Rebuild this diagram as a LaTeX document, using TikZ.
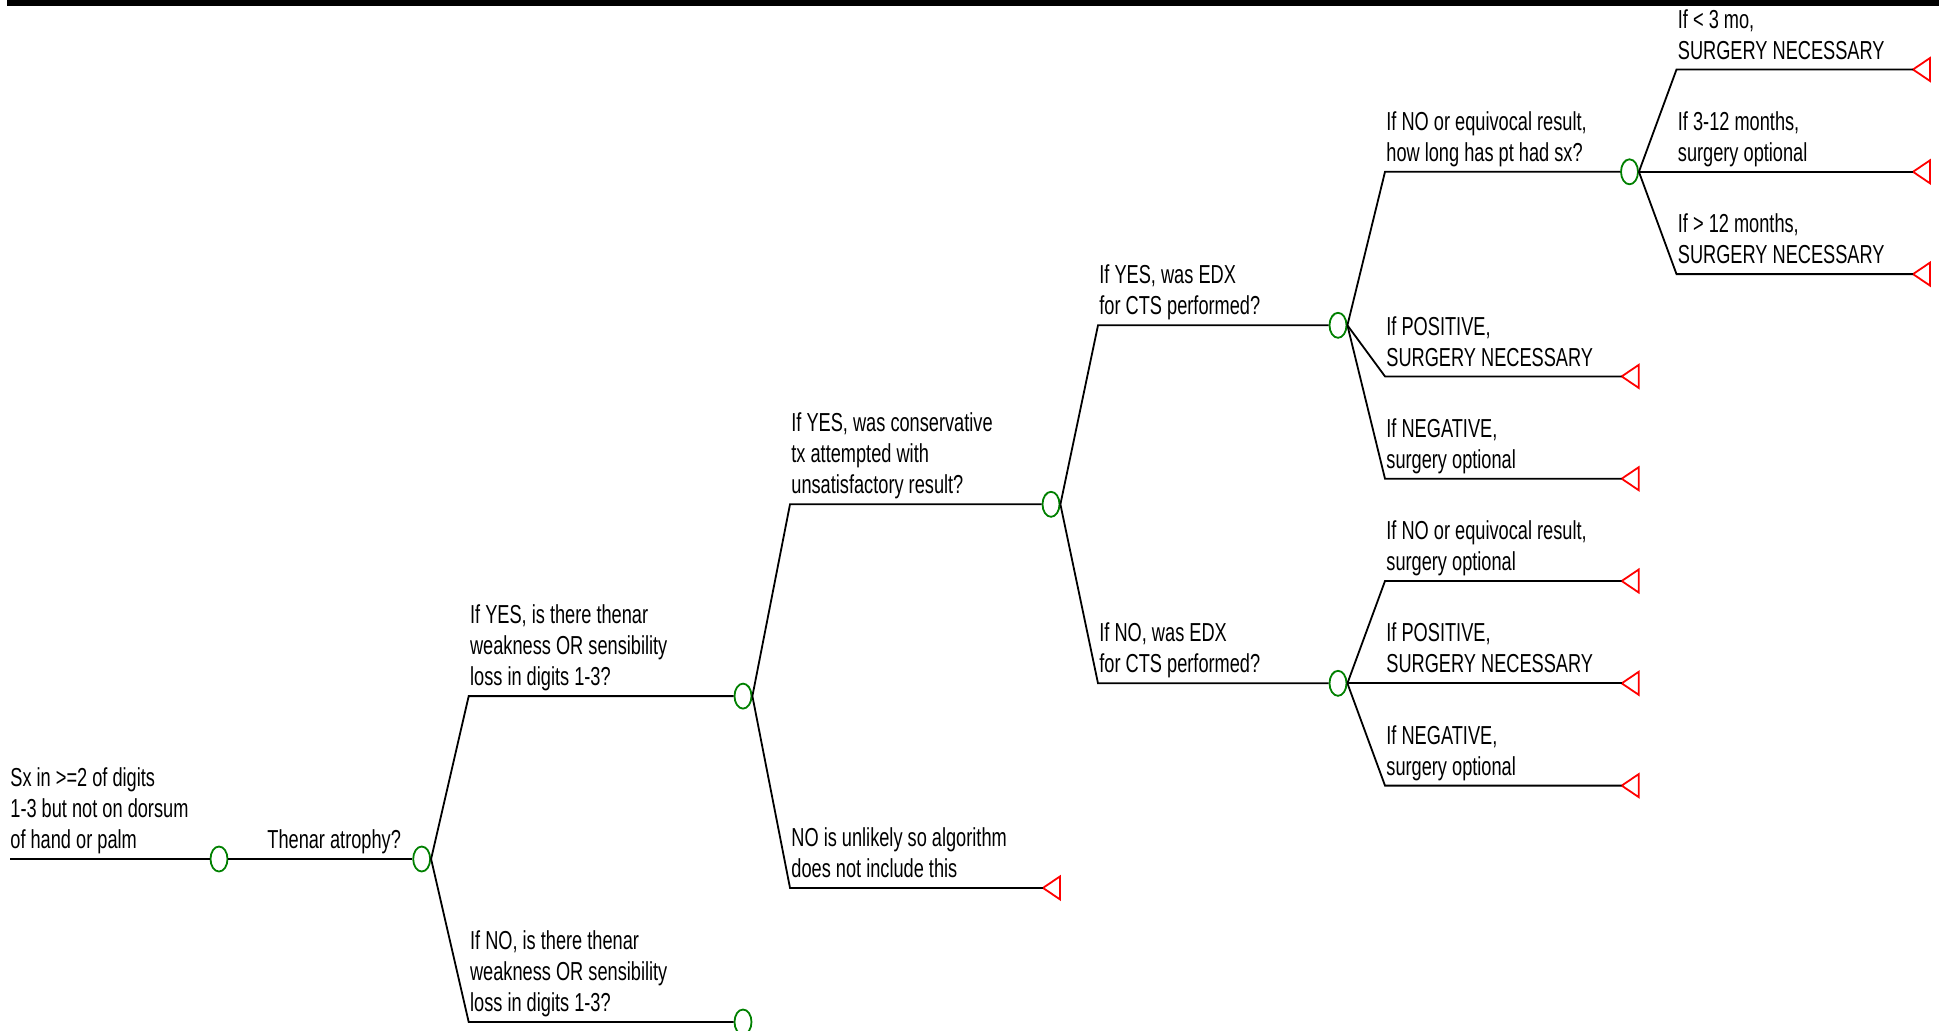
\documentclass[tikz,border=0pt]{standalone}
\usepackage{fontspec}
\setmainfont{Liberation Sans}[FakeStretch=0.7]
\usetikzlibrary{shapes.geometric}

\definecolor{chancegreen}{RGB}{0,128,0}
\definecolor{termred}{RGB}{255,0,0}

\tikzset{
  chance/.style={ellipse, draw=chancegreen, line width=0.9pt, minimum width=8.5pt, minimum height=12.5pt, inner sep=0pt},
  branch/.style={line width=0.9pt},
  lbl/.style={anchor=south west, align=left, inner sep=0pt, text depth=0pt, font=\fontsize{13}{15.5}\selectfont},
  endmark/.pic={\draw[draw=termred, line width=0.9pt] (0,0) -- (17,-11.5) -- (17,11.5) -- cycle;}
}

% parent, end point, label name, label text
\newcommand{\branchto}[4]{%
  \path (#1.center) ++(47,0) coordinate (knee);
  \draw[branch] (#1.east) -- (knee |- #2) -- (#2);
  \path (knee |- #2) ++(1,-10) node[lbl] (#3) {#4};
}

\begin{document}
\begin{tikzpicture}[x=0.5pt, y=-0.5pt]
		\useasboundingbox (0,0) rectangle (1939,1030);
		\fill (7,0) rectangle (1939,6);
		% chance nodes
		\coordinate (root) at (10,859);
		\node[chance] (sx) at (219,859) {};
		\node[chance] (thenar) at (421.7,859) {};
		\node[chance] (thyes) at (743,696.1) {};
		\node[chance] (thno) at (743,1022) {};
		\node[chance] (cons) at (1051,504.3) {};
		\node[chance] (edxyes) at (1338,325.3) {};
		\node[chance] (edxno) at (1338,683.3) {};
		\node[chance] (dur) at (1629.5,171.8) {};
		% terminals
		\coordinate (nolikely) at (1043,887.9);
		\coordinate (yespos) at (1621.7,376.4);
		\coordinate (yesneg) at (1621.7,478.7);
		\coordinate (noequiv) at (1621.7,581);
		\coordinate (nopos) at (1621.7,683.3);
		\coordinate (noneg) at (1621.7,785.6);
		\coordinate (lt3) at (1913,69.5);
		\coordinate (mid) at (1913,171.8);
		\coordinate (gt12) at (1913,274.1);
		\foreach \t in {nolikely,yespos,yesneg,noequiv,nopos,noneg,lt3,mid,gt12}
			\pic at (\t) {endmark};
		% branches
		\draw[branch] (root) -- (sx.west);
		\path (root) ++(0,-10) node[lbl] (rootlbl) {Sx in >=2 of digits\\1-3 but not on dorsum\\of hand or palm};
		\branchto{sx}{thenar.west}{thenarlbl}{Thenar atrophy?}
		\branchto{thenar}{thyes.west}{thyeslbl}{If YES, is there thenar\\weakness OR sensibility\\loss in digits 1-3?}
		\branchto{thenar}{thno.west}{thnolbl}{If NO, is there thenar\\weakness OR sensibility\\loss in digits 1-3?}
		\branchto{thyes}{cons.west}{conslbl}{If YES, was conservative\\tx attempted with\\unsatisfactory result?}
		\branchto{thyes}{nolikely}{nolikelylbl}{NO is unlikely so algorithm\\does not include this}
		\branchto{cons}{edxyes.west}{edxyeslbl}{If YES, was EDX\\for CTS performed?}
		\branchto{cons}{edxno.west}{edxnolbl}{If NO, was EDX\\for CTS performed?}
		\branchto{edxyes}{dur.west}{durlbl}{If NO or equivocal result,\\how long has pt had sx?}
		\branchto{edxyes}{yespos}{yesposlbl}{If POSITIVE,\\SURGERY NECESSARY}
		\branchto{edxyes}{yesneg}{yesneglbl}{If NEGATIVE,\\surgery optional}
		\branchto{edxno}{noequiv}{noequivlbl}{If NO or equivocal result,\\surgery optional}
		\branchto{edxno}{nopos}{noposlbl}{If POSITIVE,\\SURGERY NECESSARY}
		\branchto{edxno}{noneg}{noneglbl}{If NEGATIVE,\\surgery optional}
		\branchto{dur}{lt3}{lt3lbl}{If < 3 mo,\\SURGERY NECESSARY}
		\branchto{dur}{mid}{midlbl}{If 3-12 months,\\surgery optional}
		\branchto{dur}{gt12}{gt12lbl}{If > 12 months,\\SURGERY NECESSARY}
\end{tikzpicture}
\end{document}
